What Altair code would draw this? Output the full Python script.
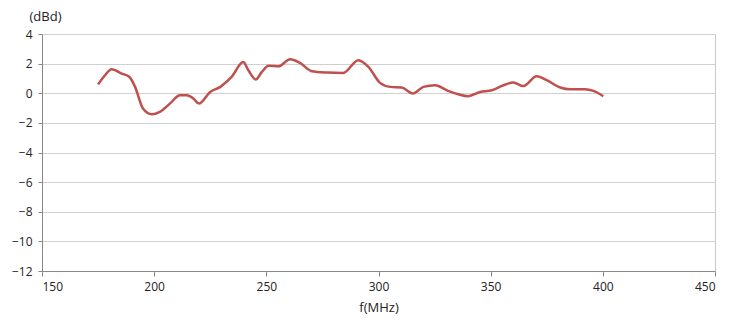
import altair as alt
import pandas as pd

freq = [175, 178, 181, 185.5, 189, 191.5, 195, 199, 202.5, 207, 211.5, 214.5, 217.5, 220,
        225, 229.5, 234.5, 239.7, 242, 245.3, 248, 251, 255.4, 260.6, 265, 270.2, 277,
        284.3, 291, 295.5, 300.7, 305.2, 310.4, 315.3, 320, 325.2, 331, 335.6, 340,
        345.3, 350.5, 355.7, 360.1, 364.6, 370.5, 375, 381, 385.4, 392, 395.8, 400.2]
gain = [0.6, 1.2, 1.62, 1.33, 1.1, 0.43, -1.03, -1.42, -1.26, -0.7, -0.14, -0.14, -0.36, -0.7,
        0.09, 0.43, 1.1, 2.11, 1.55, 0.93, 1.44, 1.85, 1.82, 2.3, 2.05, 1.49, 1.4,
        1.37, 2.23, 1.78, 0.7, 0.43, 0.39, -0.02, 0.43, 0.54, 0.16, -0.07, -0.2,
        0.09, 0.2, 0.54, 0.72, 0.49, 1.15, 0.88, 0.39, 0.27, 0.27, 0.16, -0.2]

df = pd.DataFrame({"f": freq, "g": gain})

FONT = "Open Sans"

chart = alt.Chart(df).mark_line(
    color="#c0504d", strokeWidth=2.5, interpolate="monotone"
).encode(
    x=alt.X("f:Q", scale=alt.Scale(domain=[150, 450], nice=False),
            axis=alt.Axis(values=[150, 200, 250, 300, 350, 400, 450], title="f(MHz)",
                          grid=False, tickSize=5, tickColor="#888888",
                          domainColor="#888888", labelPadding=5, titlePadding=9,
                          labelFont=FONT, titleFont=FONT, labelFontSize=12,
                          titleFontSize=13, titleFontWeight="normal",
                          labelColor="#222222", titleColor="#222222")),
    y=alt.Y("g:Q", scale=alt.Scale(domain=[-12, 4], nice=False),
            axis=alt.Axis(values=[-12, -10, -8, -6, -4, -2, 0, 2, 4], title="(dBd)",
                          grid=True, gridColor="#d0d0d0", tickSize=4, tickColor="#888888",
                          domainColor="#888888", labelPadding=6,
                          titleAngle=0, titleAlign="center", titleBaseline="middle",
                          titleX=3, titleY=-18,
                          labelFont=FONT, titleFont=FONT, labelFontSize=12,
                          titleFontSize=13, titleFontWeight="normal",
                          labelColor="#222222", titleColor="#222222")),
).properties(
    width=673, height=237,
    autosize=alt.AutoSizeParams(type="none"),
    padding={"left": 34, "top": 26, "right": 20, "bottom": 50},
).configure_view(stroke="#c8c8c8")

chart.save("out.html", embed_options={"renderer": "svg", "actions": False})
